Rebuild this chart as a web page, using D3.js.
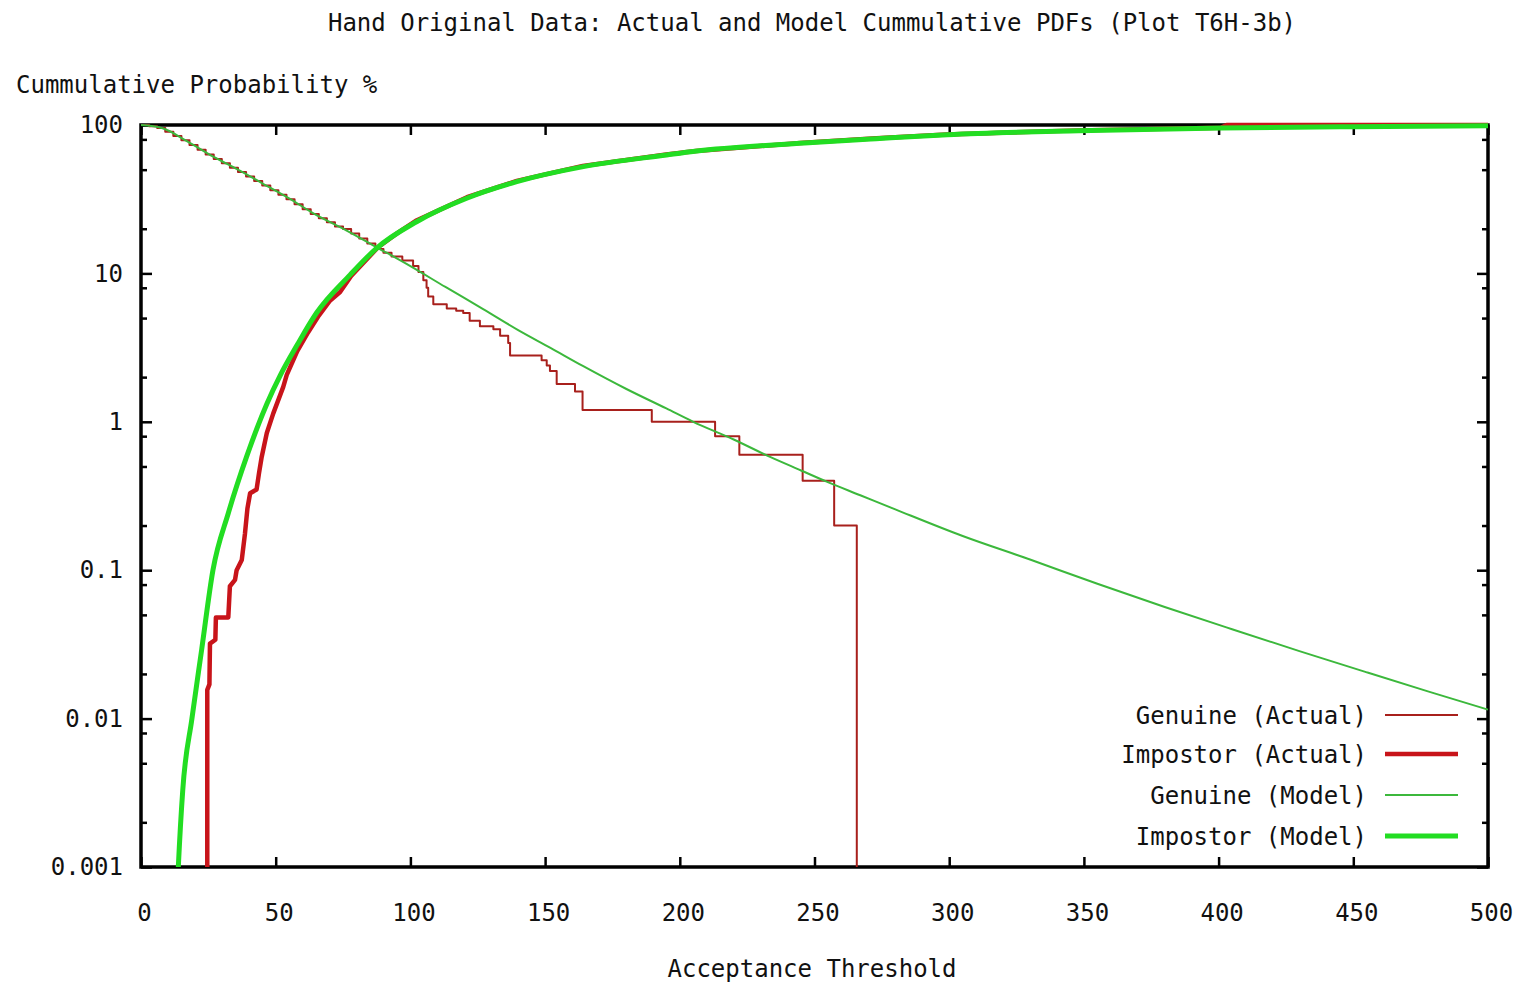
<!DOCTYPE html>
<html>
<head>
<meta charset="utf-8">
<script src="https://cdn.jsdelivr.net/npm/d3@7/dist/d3.min.js"></script>
<style>
  body { margin: 0; background: #fff; }
  svg text { font-family: "DejaVu Sans Mono", monospace; font-size: 24px; fill: #111; }
</style>
</head>
<body>
<svg id="chart"></svg>
<script>
var width = 1519,
    height = 982,
    margin = {top: 125, right: 31, bottom: 115, left: 141};

var titleText = "Hand Original Data: Actual and Model Cummulative PDFs (Plot T6H-3b)";
var yLabelText = "Cummulative Probability %";
var xLabelText = "Acceptance Threshold";

var xTicks = [0, 50, 100, 150, 200, 250, 300, 350, 400, 450, 500];
var yTicks = [0.001, 0.01, 0.1, 1, 10, 100];
var yTickLabels = ["0.001", "0.01", "0.1", "1", "10", "100"];
var yMinorTicks = [0.002, 0.005, 0.008, 0.02, 0.05, 0.08, 0.2, 0.5, 0.8,
                   2, 5, 8, 20, 50, 80];

// [threshold, cumulative %]
var genuineActual = [
  [0, 100], [3, 97.9], [6, 95.5], [9, 90.0], [12, 84.2], [15, 78.8], [18, 73.3],
  [21, 68.1], [24, 63.2], [27, 59.0], [30, 55.2], [33, 51.6], [36, 48.3], [39, 45.0],
  [42, 41.9], [45, 39.1], [48, 36.4], [51, 33.9], [54, 31.6], [57, 29.2], [60, 27.1],
  [63, 25.1], [66, 23.5], [69, 22.1], [72, 20.7], [75, 19.9], [78, 18.6], [81, 17.2],
  [84, 15.9], [87, 14.6], [90, 13.8], [93, 13], [97, 12.2], [101, 11.2], [103, 10.2],
  [104.8, 9], [106, 8], [106.6, 7], [108.5, 6.2], [113.5, 5.8], [117, 5.6],
  [119.6, 5.4], [122, 4.8], [125.8, 4.4], [130.8, 4.2], [133.3, 3.8], [136.3, 3.4],
  [137, 2.8], [148.7, 2.6], [150.6, 2.4], [151.8, 2.2], [154.3, 1.8], [161.1, 1.6],
  [163.9, 1.2], [189.6, 1.0], [213.1, 0.8], [222.1, 0.6], [245.6, 0.4], [257.3, 0.2],
  [265.7, 0.0001]
];

var impostorActual = [
  [24.6, 0.0001], [24.6, 0.0156], [25.4, 0.017], [25.6, 0.032], [27.6, 0.034],
  [27.8, 0.048], [32.4, 0.048], [33, 0.078], [34.9, 0.086], [35.5, 0.1], [37.4, 0.117],
  [38.6, 0.177], [39.5, 0.26], [40.5, 0.33], [42.9, 0.35], [43.8, 0.45], [44.8, 0.58],
  [46.7, 0.84], [49.1, 1.14], [52.8, 1.72], [54.1, 2.07], [58, 3.0], [62, 4.0],
  [66, 5.2], [70, 6.5], [73.9, 7.5], [78, 9.6], [82, 11.5], [88, 15], [95, 18.6],
  [102, 22.6], [121, 32.6], [139.5, 42], [164, 53], [195, 63.2], [206, 66.8],
  [246, 76], [273, 81.3], [299, 86.4], [348, 92], [401, 96], [403, 100], [500, 100]
];

var genuineModel = [
  [0, 100], [4, 98.3], [8, 95], [17, 78], [27, 61], [36, 50], [45, 40.5], [55, 32],
  [64, 25.4], [76, 19.6], [87.5, 15], [100, 11.2], [113, 8.1], [127, 5.75], [140, 4.15],
  [152, 3.15], [164, 2.38], [180, 1.67], [195, 1.23], [205, 1.0], [220, 0.76],
  [233.5, 0.58], [245, 0.47], [254.5, 0.395], [267, 0.32], [280, 0.257], [305, 0.170],
  [330, 0.118], [355, 0.081], [380, 0.0565], [405, 0.040], [430, 0.0285],
  [455, 0.0205], [478, 0.0152], [500, 0.0115]
];

var impostorModel = [
  [13.6, 0.0008], [13.85, 0.001], [15.5, 0.0033], [18.9, 0.01], [22.5, 0.029],
  [26.7, 0.1], [32.4, 0.242], [39.2, 0.582], [46.7, 1.32], [51.6, 2.04], [58, 3.3],
  [65.2, 5.43], [77.6, 9.77], [87.5, 14.8], [102.3, 22.3], [120.9, 32.1],
  [139.5, 41.5], [164.2, 52.4], [195.1, 62.8], [205.6, 66.5], [246.3, 75.6],
  [272.8, 80.9], [299.3, 86.1], [348, 91.6], [401, 95.5], [450, 97.5], [500, 98.8]
];

var seriesNames = ["Genuine (Actual)", "Impostor (Actual)", "Genuine (Model)", "Impostor (Model)"];
var seriesData = [genuineActual, impostorActual, genuineModel, impostorModel];
var seriesColors = ["#a8201c", "#c8141a", "#3cb83c", "#22dd22"];
var seriesWidths = [2, 4.5, 2, 5];
var seriesCurves = [d3.curveStepAfter, d3.curveLinear, d3.curveMonotoneX, d3.curveMonotoneX];

var svg = d3.select("#chart")
    .attr("width", width)
    .attr("height", height);

var x = d3.scaleLinear()
    .domain([0, 500])
    .range([margin.left, width - margin.right]);

var y = d3.scaleLog()
    .domain([0.001, 100])
    .range([height - margin.bottom, margin.top]);

// titles
svg.append("text")
    .attr("x", 812)
    .attr("y", 31)
    .attr("text-anchor", "middle")
    .text(titleText);

svg.append("text")
    .attr("x", 16)
    .attr("y", 93)
    .text(yLabelText);

svg.append("text")
    .attr("x", 812)
    .attr("y", 977)
    .attr("text-anchor", "middle")
    .text(xLabelText);

// axes, ticks pointing inward like gnuplot
var tickStyle = g => {
  g.select(".domain").remove();
  g.selectAll(".tick line").attr("stroke", "#000").attr("stroke-width", 2.5);
  g.selectAll(".tick text").attr("fill", "#111").style("font-size", "24px")
      .style("font-family", "'DejaVu Sans Mono', monospace");
};

svg.append("g")
    .attr("transform", "translate(0," + (height - margin.bottom) + ")")
    .call(d3.axisBottom(x).tickValues(xTicks).tickSize(-10).tickPadding(37))
    .call(tickStyle)
    .call(g => g.selectAll(".tick text").attr("dx", 3));

svg.append("g")
    .attr("transform", "translate(0," + margin.top + ")")
    .call(d3.axisTop(x).tickValues(xTicks).tickSize(-10).tickFormat(""))
    .call(tickStyle);

svg.append("g")
    .attr("transform", "translate(" + margin.left + ",0)")
    .call(d3.axisLeft(y).tickValues(yTicks).tickSize(-11).tickPadding(18)
        .tickFormat((d, i) => yTickLabels[i]))
    .call(tickStyle);

svg.append("g")
    .attr("transform", "translate(" + margin.left + ",0)")
    .call(d3.axisLeft(y).tickValues(yMinorTicks).tickSize(-6).tickFormat(""))
    .call(tickStyle);

svg.append("g")
    .attr("transform", "translate(" + (width - margin.right) + ",0)")
    .call(d3.axisRight(y).tickValues(yTicks).tickSize(-11).tickFormat(""))
    .call(tickStyle);

svg.append("g")
    .attr("transform", "translate(" + (width - margin.right) + ",0)")
    .call(d3.axisRight(y).tickValues(yMinorTicks).tickSize(-6).tickFormat(""))
    .call(tickStyle);

// border
svg.append("rect")
    .attr("x", margin.left)
    .attr("y", margin.top)
    .attr("width", width - margin.left - margin.right)
    .attr("height", height - margin.top - margin.bottom)
    .attr("fill", "none")
    .attr("stroke", "#000")
    .attr("stroke-width", 3.5);

svg.append("clipPath")
    .attr("id", "plotclip")
  .append("rect")
    .attr("x", margin.left)
    .attr("y", margin.top - 3)
    .attr("width", width - margin.left - margin.right + 2)
    .attr("height", height - margin.top - margin.bottom + 3);

var plot = svg.append("g").attr("clip-path", "url(#plotclip)");

seriesData.forEach(function (data, i) {
  var line = d3.line()
      .x(d => x(d[0]))
      .y(d => y(d[1]))
      .curve(seriesCurves[i]);
  plot.append("path")
      .attr("d", line(data))
      .attr("fill", "none")
      .attr("stroke", seriesColors[i])
      .attr("stroke-width", seriesWidths[i])
      .attr("stroke-linejoin", "round");
});

// legend
var legendRows = [715, 754, 795, 836];
var legend = svg.append("g");
seriesNames.forEach(function (name, i) {
  legend.append("text")
      .attr("x", 1367)
      .attr("y", legendRows[i])
      .attr("dy", "0.36em")
      .attr("text-anchor", "end")
      .text(name);
  legend.append("line")
      .attr("x1", 1385)
      .attr("x2", 1458)
      .attr("y1", legendRows[i])
      .attr("y2", legendRows[i])
      .attr("stroke", seriesColors[i])
      .attr("stroke-width", seriesWidths[i]);
});
</script>
</body>
</html>
